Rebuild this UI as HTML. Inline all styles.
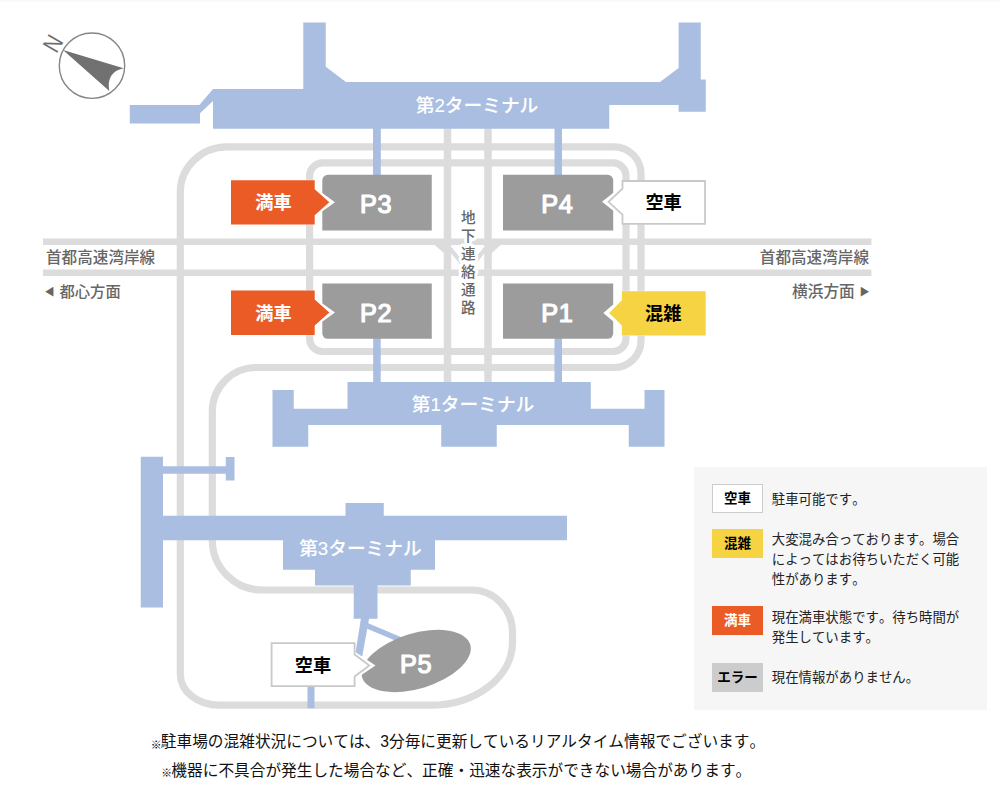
<!DOCTYPE html>
<html lang="ja">
<head>
<meta charset="utf-8">
<title>駐車場混雑状況</title>
<style>
html,body{margin:0;padding:0;background:#fff;}
body{width:1000px;height:791px;overflow:hidden;position:relative;font-family:"Liberation Sans","Noto Sans CJK JP",sans-serif;}
svg{position:absolute;left:0;top:0;display:block;}
svg text{font-family:"Liberation Sans","Noto Sans CJK JP",sans-serif;}
.road{fill:none;stroke:#dcdcdc;stroke-width:7.2;stroke-linejoin:round;}
.blue{fill:#a9bee0;}
.bl{fill:none;stroke:#a9bee0;}
.pk{fill:#9c9c9c;}
.ptxt{fill:#fff;font-weight:normal;font-size:25.8px;text-anchor:middle;stroke:#fff;stroke-width:1.25px;stroke-linejoin:round;letter-spacing:0.7px;}
.ttxt{fill:#fff;font-size:18.7px;font-weight:500;text-anchor:middle;stroke:#fff;stroke-width:0.12px;}
.gtxt{fill:#666;font-size:15.6px;font-weight:500;}
.tri{fill:#666;font-size:10.6px;font-family:"DejaVu Sans","Liberation Sans",sans-serif;}
.lab{font-weight:bold;font-size:18.2px;text-anchor:middle;}
.vtxt{fill:#666;font-size:14.6px;font-weight:500;text-anchor:middle;stroke:#fff;stroke-width:6;paint-order:stroke;stroke-linejoin:round;}
.legend{position:absolute;left:694px;top:467px;width:292.5px;height:242.6px;background:#f6f6f6;}
.badge{position:absolute;left:18px;width:51px;height:29px;box-sizing:border-box;font-weight:bold;font-size:13.5px;line-height:29px;text-align:center;color:#000;white-space:nowrap;}
.desc{position:absolute;left:77.8px;font-size:13.4px;line-height:19.6px;color:#222;white-space:nowrap;font-kerning:none;}
.note{position:absolute;left:0;width:914px;text-align:center;font-size:15.68px;line-height:20px;color:#111;white-space:nowrap;font-kerning:none;}
.note span{display:inline-block;width:9.6px;font-size:10.8px;font-weight:900;color:#000;text-align:center;vertical-align:baseline;position:relative;top:1.5px;text-indent:-0.6px;}
.topline{position:absolute;left:0;top:0;width:1000px;height:3px;background:linear-gradient(#f7f7f7,#fff);}
</style>
</head>
<body>
<div class="topline"></div>
<svg width="1000" height="791" viewBox="0 0 1000 791">
<!-- roads -->
<g class="road">
<path d="M180.3 400 V191.9 A47 45 0 0 1 227.3 146.9 H614 A27 27 0 0 1 641 173.9 V340.5 A27 27 0 0 1 614 367.5 H256.3 A44 44 0 0 0 212.3 411.5 V540 A50 50 0 0 0 262.3 590 H472 A40.5 42.5 0 0 1 512.5 632.5 V642.4 A82.5 62.8 0 0 1 430 705.2 H219.3 A39 31 0 0 1 180.3 674.2 Z"/>
<rect x="309.6" y="162.9" width="316.4" height="188.6" rx="13" ry="13"/>
<path d="M447.5 128 V383 M488 128 V383" style="stroke-width:7.5"/>
<path d="M43 241.7 H871.4 M43 272.7 H871.4" style="stroke-width:6.6"/>
<path d="M435.5 242 L447.5 252.8 M500 242 L488 252.8" style="stroke-width:5.5"/>
<path d="M450 248.5 L462 263.5 M485.5 248.5 L473.5 263.5" style="stroke-width:4.2"/>
</g>
<!-- terminals -->
<g class="blue">
<path d="M129.8 105 H199.4 L213 89.1 H303.3 V22.5 H325.75 V66.75 L346 82 H660 L678.6 68 V22.5 H700.75 V79.5 H705.75 V111.75 H678.6 V105 H609.25 V128.85 H213 V101 L200 113.2 V123.4 H129.8 Z"/>
<path d="M272.5 390 H293.75 V408.75 H347.5 V382 H590.75 V408.75 H644.5 V390 H664.5 V446.75 H628.75 V425 H496.75 V446.75 H441.25 V425 H308.25 V446.75 H272.5 Z"/>
<path d="M140.75 456.75 H163 V466.25 H225.75 V457 H234.5 V480.5 H225.75 V473.75 H163 V515.75 H345.5 V503 H383.75 V515.75 H567 V540.3 H435 V569.7 H410.75 V585.6 H377.5 V618.75 H353.75 V585.6 H315 V569.7 H283 V540.3 H163 V607.5 H140.75 Z"/>
<rect x="373" y="128" width="7.8" height="47"/>
<rect x="554.5" y="128" width="7.5" height="47"/>
<rect x="373.2" y="338" width="7.5" height="45"/>
<rect x="554.5" y="338" width="7.5" height="45"/>
<rect x="307.5" y="685" width="7" height="23.25"/>
</g>
<path class="blue" d="M361 618 H369.2 L362.3 656 H355 Z"/>
<path class="bl" d="M366 625.2 L402 640.5" style="stroke-width:5.5"/>
<!-- parking -->
<g class="pk">
<path d="M327.8 174.8 H431.75 V230.5 H322.3 V180.3 A5.5 5.5 0 0 1 327.8 174.8 Z"/>
<path d="M503 174.8 H607.7 A5.5 5.5 0 0 1 613.2 180.3 V230.5 H503 Z"/>
<path d="M322.3 283.5 H431.75 V338.75 H327.8 A5.5 5.5 0 0 1 322.3 333.25 Z"/>
<path d="M503 283.5 H613.2 V333.25 A5.5 5.5 0 0 1 607.7 338.75 H503 Z"/>
<ellipse cx="416.2" cy="661" rx="56.5" ry="27.6" transform="rotate(-17 416.2 661)"/>
</g>
<text class="ptxt" transform="translate(376.1 212.8) scale(0.98 1)">P3</text>
<text class="ptxt" transform="translate(557.4 212.8) scale(0.98 1)">P4</text>
<text class="ptxt" transform="translate(376.1 321.8) scale(0.98 1)">P2</text>
<text class="ptxt" transform="translate(557.4 321.8) scale(0.98 1)">P1</text>
<text class="ptxt" transform="translate(416.1 672.8) scale(0.98 1)">P5</text>
<!-- terminal labels -->
<text class="ttxt" x="477" y="111.6">第2ターミナル</text>
<text class="ttxt" x="473" y="411">第1ターミナル</text>
<text class="ttxt" x="360.4" y="555.3">第3ターミナル</text>
<!-- vertical text -->
<text class="vtxt" x="466.9" y="210.6" style="writing-mode:vertical-rl;text-orientation:upright;letter-spacing:3.4px;text-anchor:start;">地下連絡通路</text>
<!-- highway text -->
<text class="gtxt" x="46" y="263">首都高速湾岸線</text>
<text class="gtxt" x="59.5" y="296.6" style="font-size:15.3px">都心方面</text>
<text class="tri" transform="translate(45.3 295.2) scale(1 1.2)">◀</text>
<text class="gtxt" x="869" y="263" text-anchor="end">首都高速湾岸線</text>
<text class="gtxt" x="854.8" y="296.6" text-anchor="end" style="font-size:15.7px">横浜方面</text>
<text class="tri" transform="translate(860.8 295.2) scale(1 1.2)">▶</text>
<!-- status labels -->
<g fill="#fff">
<path d="M313 187.6 H314.7 L335 202.2 L314.7 216.8 H313 Z"/>
<path d="M313 297.9 H314.7 L335 312.5 L314.7 327.1 H313 Z"/>
<path d="M624 297 H621.9 L603.3 312.9 L621.9 328.8 H624 Z"/>
<path d="M624 185.5 H622.5 L602 201.8 L622.5 218 H624 Z"/>
<path d="M353 651.5 H354.6 L375.5 665.5 L354.6 679.5 H353 Z"/>
</g>
<g stroke="#fff" stroke-width="0.6" paint-order="stroke" stroke-linejoin="miter">
<path d="M231 180.3 H314.7 V189.2 L329.3 202.2 L314.7 215.3 V224.6 H231 Z" fill="#ea5b25"/>
<path d="M231 290.6 H314.7 V299.5 L329.3 312.5 L314.7 325.6 V334.9 H231 Z" fill="#ea5b25"/>
<path d="M705.7 291.2 H621.9 V300.3 L609.2 312.9 L621.9 325.5 V335.5 H705.7 Z" fill="#f6d342"/>
<path d="M705 181 H622.5 V188.6 L608.5 201.8 L622.5 214.6 V223.8 H705 Z" fill="#fff"/>
<path d="M271.6 643.2 H354.6 V654.5 L369.3 665.5 L354.6 676.5 V686.1 H271.6 Z" fill="#fff"/>
</g>
<g fill="#fff" stroke="#c9c9c9" stroke-width="1.8">
<path d="M705 181 H622.5 V188.6 L608.5 201.8 L622.5 214.6 V223.8 H705 Z"/>
<path d="M271.6 643.2 H354.6 V654.5 L369.3 665.5 L354.6 676.5 V686.1 H271.6 Z"/>
</g>
<text class="lab" x="273.5" y="209.3" fill="#fff">満車</text>
<text class="lab" x="273.5" y="319.8" fill="#fff">満車</text>
<text class="lab" x="663.6" y="209.3" fill="#000">空車</text>
<text class="lab" x="663.3" y="320.4" fill="#000">混雑</text>
<text class="lab" x="313" y="671.8" fill="#000">空車</text>
<!-- compass -->
<circle cx="92" cy="65.7" r="32.7" fill="#fff" stroke="#858585" stroke-width="1.4"/>
<path d="M63 50 L123.6 68.2 Q106 72 109.3 91 Z" fill="#717171"/>
<text x="0" y="0" transform="translate(56.5 54.3) rotate(-60) scale(0.85 1)" style="font-size:24.5px;fill:#6e6e6e;">N</text>
</svg>
<div class="legend">
<div class="badge" style="top:17.2px;height:29.3px;background:#fff;border:1px solid #ccc;line-height:27.3px;">空車</div>
<div class="desc" style="top:23px;">駐車可能です。</div>
<div class="badge" style="top:62.2px;background:#f6d342;">混雑</div>
<div class="desc" style="top:63.4px;">大変混み合っております。場合<br>によってはお待ちいただく可能<br>性があります。</div>
<div class="badge" style="top:139px;background:#ea5b25;color:#fff;">満車</div>
<div class="desc" style="top:141px;">現在満車状態です。待ち時間が<br>発生しています。</div>
<div class="badge" style="top:195.5px;background:#ccc;">エラー</div>
<div class="desc" style="top:201px;">現在情報がありません。</div>
</div>
<div class="note" style="top:732px;left:1.2px;"><span>※</span>駐車場の混雑状況については、3分毎に更新しているリアルタイム情報でございます。</div>
<div class="note" style="top:760.6px;left:-0.5px;"><span>※</span>機器に不具合が発生した場合など、正確・迅速な表示ができない場合があります。</div>
</body>
</html>
